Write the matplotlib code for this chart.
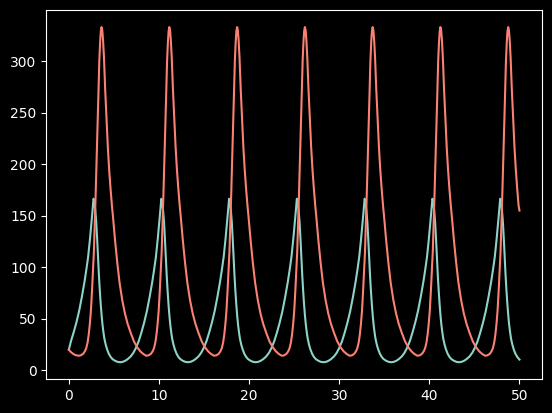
import numpy as np
import matplotlib

matplotlib.use("Agg")
import matplotlib.pyplot as plt

# values: every cycle repeats the same shape,
# so one cycle is stored (offset from its peak, value) plus the peak times
prey_peak_t = [2.74, 10.26, 17.78, 25.30, 32.82, 40.34, 47.86]
prey_off = [-3.72, -3.4, -3.1, -2.8, -2.5, -2.2, -1.9, -1.6, -1.3, -1.0, -0.8, -0.6,
            -0.4, -0.25, -0.12, -0.04, 0.0, 0.05, 0.1, 0.2, 0.3, 0.4, 0.5, 0.6, 0.7,
            0.8, 0.9, 1.0, 1.1, 1.2, 1.35, 1.5, 1.7, 1.9, 2.1, 2.35, 2.65, 2.95,
            3.25, 3.55]
prey_val = [11, 13.5, 17, 22, 28.5, 37, 46.5, 57.5, 71, 86, 97.5, 110,
            127, 141, 154, 163, 166.5, 165.5, 163, 155, 144, 128, 110, 92, 77,
            64, 53, 44, 37, 31, 25, 20.5, 16, 13, 11, 9.5, 8.3, 7.9,
            8.3, 9.5]
prey_start_t, prey_start = [0.0], [20]
prey_end_t, prey_end = [50.0], [10.5]

pred_peak_t = [3.63, 11.15, 18.67, 26.19, 33.71, 41.23, 48.75]
pred_off = [-2.56, -2.3, -2.05, -1.85, -1.7, -1.55, -1.42, -1.3, -1.18, -1.06, -0.95,
            -0.85, -0.75, -0.65, -0.55, -0.45, -0.35, -0.25, -0.16, -0.08, 0.0, 0.08,
            0.17, 0.27, 0.4, 0.55, 0.7, 0.85, 1.0, 1.15, 1.3, 1.5, 1.75, 2.0, 2.3,
            2.6, 2.9, 3.25, 3.6, 3.95, 4.3, 4.65]
pred_val = [14.2, 14.6, 16, 18.5, 21.5, 27, 35, 45, 58, 77, 97,
            115, 142, 172, 203, 235, 267, 300, 318, 329, 333, 330,
            320, 303, 273, 244, 216, 194, 176, 160, 146, 126, 104, 85, 68,
            55, 45, 36, 28, 22.5, 18.5, 15.8]
pred_start_t, pred_start = [0.0, 0.25, 0.5, 0.75], [20, 17.6, 15.9, 14.8]
pred_end_t, pred_end = [50.0], [155]


def series(start_t, start_v, peaks, off, val, end_t, end_v):
    t, v = list(start_t), list(start_v)
    for p in peaks:
        for o, y in zip(off, val):
            if start_t[-1] + 0.2 < p + o < end_t[0] - 0.08:
                t.append(p + o)
                v.append(y)
    return np.array(t + end_t), np.array(v + end_v)


plt.style.use("dark_background")
fig = plt.figure(figsize=(5.52, 4.13), dpi=100)
ax = fig.add_axes([46.3 / 552, 1 - 379 / 413, (542 - 46.3) / 552, (379 - 10.3) / 413])

t1, x1 = series(prey_start_t, prey_start, prey_peak_t, prey_off, prey_val, prey_end_t, prey_end)
t2, x2 = series(pred_start_t, pred_start, pred_peak_t, pred_off, pred_val, pred_end_t, pred_end)
ax.plot(t1, x1, color="#8dd3c7")
ax.plot(t2, x2, color="#fa8174")

fig.savefig("out.png", dpi=100)
